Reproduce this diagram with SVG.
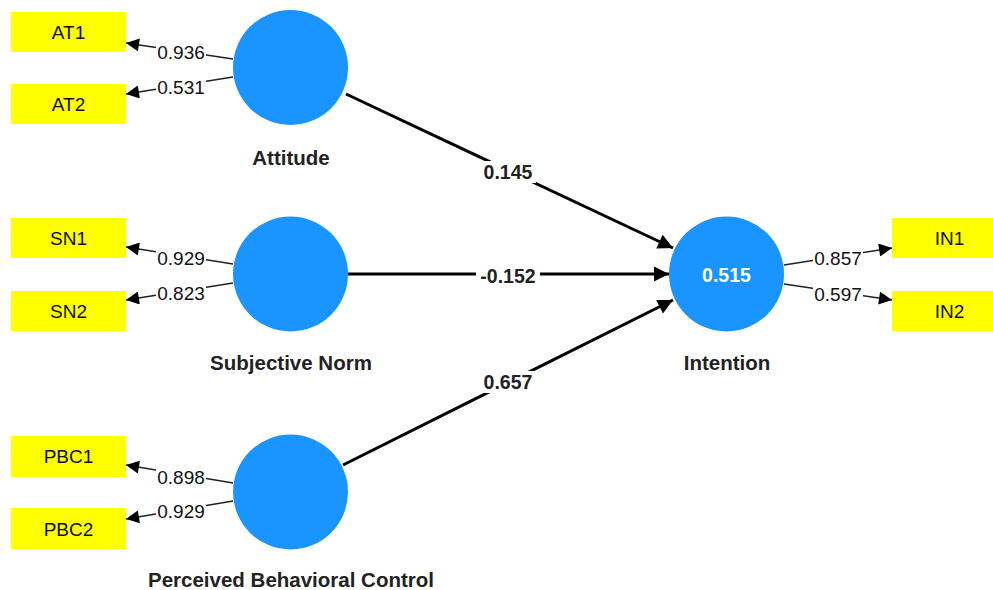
<svg xmlns="http://www.w3.org/2000/svg" width="993" height="590" viewBox="0 0 993 590">
<defs>
<marker id="ah" viewBox="0 0 10 10" refX="10" refY="5" markerWidth="6" markerHeight="5" markerUnits="strokeWidth" orient="auto">
<path d="M0,0 L10,5 L0,10 Z" fill="#000"/>
</marker>
<marker id="ahs" viewBox="0 0 10 10" refX="10" refY="5" markerWidth="16" markerHeight="13" markerUnits="userSpaceOnUse" orient="auto">
<path d="M0,0 L10,5 L0,10 Z" fill="#000"/>
</marker>
</defs>
<style>
.ind{fill:#ffff00}
.lv{fill:#1a94ff}
.t{font-family:"Liberation Sans",Arial,sans-serif;font-size:19px;fill:#111;text-anchor:middle;dominant-baseline:central}
.b{font-family:"Liberation Sans",Arial,sans-serif;font-size:19.5px;font-weight:bold;fill:#222;text-anchor:middle;dominant-baseline:central}
.nm{font-family:"Liberation Sans",Arial,sans-serif;font-size:20.5px;font-weight:bold;fill:#222;text-anchor:middle;dominant-baseline:central}
.r2{font-family:"Liberation Sans",Arial,sans-serif;font-size:19.5px;font-weight:bold;fill:#fff;text-anchor:middle;dominant-baseline:central}
.ml{stroke:#222;stroke-width:1.5;fill:none;marker-end:url(#ahs)}
.pl{stroke:#000;stroke-width:3;fill:none;marker-end:url(#ah)}
.bg{fill:#fff}
</style>
<rect width="993" height="590" fill="#fff"/>
<g id="connectors">
<line class="ml" x1="233" y1="59" x2="126" y2="43"/>
<line class="ml" x1="233" y1="77" x2="126" y2="94"/>
<line class="ml" x1="233" y1="264" x2="126" y2="247"/>
<line class="ml" x1="233" y1="283" x2="126" y2="300"/>
<line class="ml" x1="233" y1="483" x2="126" y2="465"/>
<line class="ml" x1="233" y1="501" x2="126" y2="519"/>
<line class="ml" x1="784" y1="265" x2="892" y2="248"/>
<line class="ml" x1="784" y1="284" x2="892" y2="300"/>
<line class="pl" x1="346" y1="94" x2="673" y2="248"/>
<line class="pl" x1="348" y1="274" x2="669" y2="274"/>
<line class="pl" x1="343" y1="465" x2="673" y2="300"/>
<rect class="bg" x="156" y="43" width="50" height="18"/>
<rect class="bg" x="156" y="78" width="50" height="18"/>
<rect class="bg" x="156" y="249" width="50" height="18"/>
<rect class="bg" x="156" y="284" width="50" height="18"/>
<rect class="bg" x="156" y="468" width="50" height="18"/>
<rect class="bg" x="156" y="502" width="50" height="18"/>
<rect class="bg" x="813" y="249" width="50" height="18"/>
<rect class="bg" x="813" y="285" width="50" height="18"/>
<rect class="bg" x="480" y="161" width="56" height="22"/>
<rect class="bg" x="476" y="265" width="64" height="22"/>
<rect class="bg" x="480" y="371" width="56" height="22"/>
<text class="t" x="181" y="52">0.936</text>
<text class="t" x="181" y="87">0.531</text>
<text class="t" x="181" y="258">0.929</text>
<text class="t" x="181" y="293">0.823</text>
<text class="t" x="181" y="477">0.898</text>
<text class="t" x="181" y="511">0.929</text>
<text class="t" x="838" y="258">0.857</text>
<text class="t" x="838" y="294">0.597</text>
<text class="b" x="508" y="172">0.145</text>
<text class="b" x="508" y="276">-0.152</text>
<text class="b" x="508" y="382">0.657</text>
</g>
<g id="AT1"><rect class="ind" x="11" y="12" width="115" height="40"/><text class="t" x="68.5" y="32">AT1</text></g>
<g id="AT2"><rect class="ind" x="11" y="84" width="115" height="40"/><text class="t" x="68.5" y="104">AT2</text></g>
<g id="SN1"><rect class="ind" x="11" y="218" width="115" height="40"/><text class="t" x="68.5" y="238">SN1</text></g>
<g id="SN2"><rect class="ind" x="11" y="291" width="115" height="40"/><text class="t" x="68.5" y="311">SN2</text></g>
<g id="PBC1"><rect class="ind" x="11" y="436" width="115" height="41"/><text class="t" x="68.5" y="456">PBC1</text></g>
<g id="PBC2"><rect class="ind" x="11" y="508" width="115" height="41"/><text class="t" x="68.5" y="529">PBC2</text></g>
<g id="IN1"><rect class="ind" x="892" y="218" width="115" height="40"/><text class="t" x="949.5" y="238">IN1</text></g>
<g id="IN2"><rect class="ind" x="892" y="291" width="115" height="40"/><text class="t" x="949.5" y="311">IN2</text></g>
<g id="Attitude"><circle class="lv" cx="290.5" cy="67.5" r="57.5"/><text class="nm" x="291" y="157">Attitude</text></g>
<g id="SubjectiveNorm"><circle class="lv" cx="290.5" cy="274" r="57.5"/><text class="nm" x="291" y="362">Subjective Norm</text></g>
<g id="PerceivedBehavioralControl"><circle class="lv" cx="290.5" cy="492" r="57.5"/><text class="nm" x="291" y="579">Perceived Behavioral Control</text></g>
<g id="Intention"><circle class="lv" cx="726.5" cy="274" r="57.5"/><text class="r2" x="726.5" y="275">0.515</text><text class="nm" x="727" y="362">Intention</text></g>
</svg>
